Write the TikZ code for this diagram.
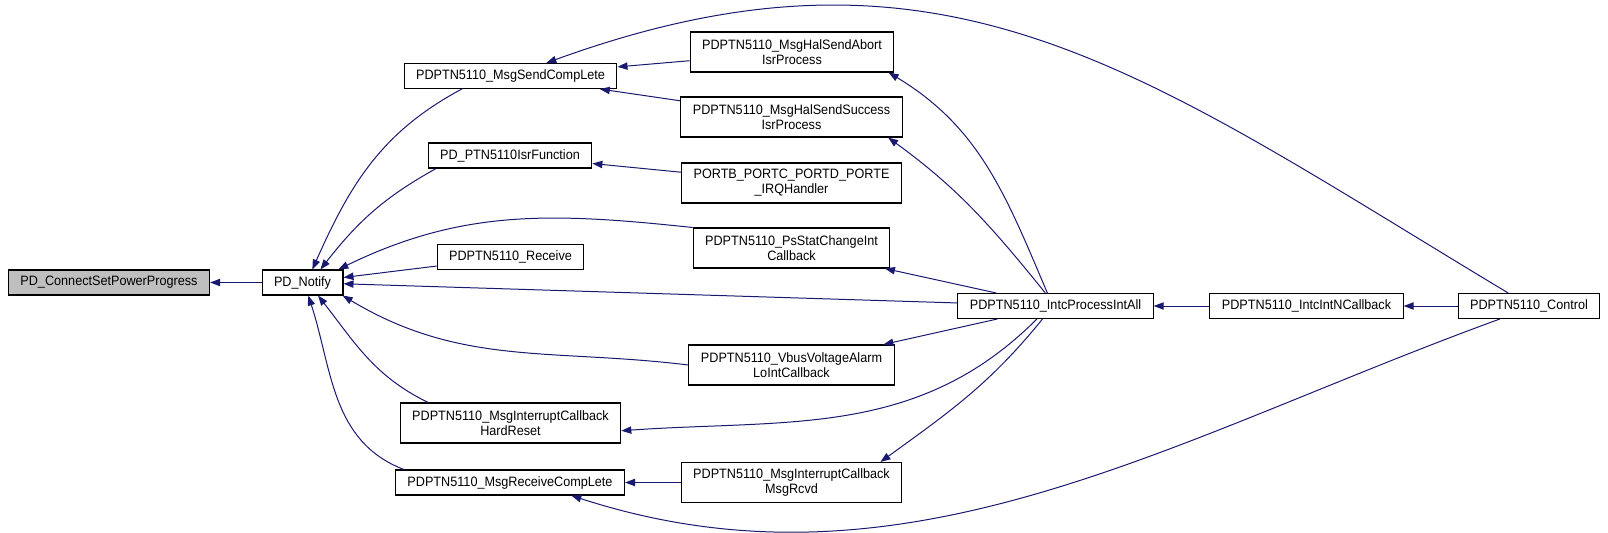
\documentclass[tikz,border=0pt]{standalone}
\usepackage{fontspec}
\setmainfont{Liberation Sans}[FakeStretch=0.93]
\usetikzlibrary{arrows.meta}
\definecolor{edge}{RGB}{25,25,112}
\definecolor{rootfill}{RGB}{191,191,191}

\begin{document}
\begin{tikzpicture}[
  x=0.75pt, y=0.75pt,
  font=\fontsize{10.2}{11.25}\selectfont,
  fn/.style={draw=black, fill=white, line width=0.8pt, align=center,
    inner xsep=9pt, inner ysep=2pt, minimum height=18.75pt},
  fn2/.style={fn, minimum height=30pt},
  root/.style={fn, fill=rootfill},
  arr/.style={-{Triangle[length=7.5pt,width=5.5pt]}, draw=edge, line width=0.75pt}
]
\useasboundingbox (0,0) rectangle (1608,-532);
\node[root] (cp) at (109,-282.5) {PD\_ConnectSetPowerProgress};
\node[fn] (nt) at (302.5,-282.5) {PD\_Notify};
\node[fn] (msc) at (510.5,-76) {PDPTN5110\_MsgSendCompLete};
\node[fn] (isr) at (510,-155.5) {PD\_PTN5110IsrFunction};
\node[fn] (rcv) at (510.5,-257) {PDPTN5110\_Receive};
\node[fn2] (hrd) at (510.5,-423) {PDPTN5110\_MsgInterruptCallback\\HardReset};
\node[fn] (mrc) at (510,-482.5) {PDPTN5110\_MsgReceiveCompLete};
\node[fn2] (abrt) at (792,-52) {PDPTN5110\_MsgHalSendAbort\\IsrProcess};
\node[fn2] (succ) at (791.5,-117) {PDPTN5110\_MsgHalSendSuccess\\IsrProcess};
\node[fn2] (port) at (791.5,-183) {PORTB\_PORTC\_PORTD\_PORTE\\\_IRQHandler};
\node[fn2] (pssc) at (791.5,-248) {PDPTN5110\_PsStatChangeInt\\Callback};
\node[fn2] (vbus) at (791.5,-365) {PDPTN5110\_VbusVoltageAlarm\\LoIntCallback};
\node[fn2] (mrcv) at (791.5,-482.5) {PDPTN5110\_MsgInterruptCallback\\MsgRcvd};
\node[fn] (intc) at (1055.5,-306) {PDPTN5110\_IntcProcessIntAll};
\node[fn] (intn) at (1306.5,-306) {PDPTN5110\_IntcIntNCallback};
\node[fn] (ctrl) at (1529,-306) {PDPTN5110\_Control};
\draw[arr] (nt) -- (cp);
\draw[arr] (msc.195) to[out=208,in=66] (nt.53);
\draw[arr] (isr.190) to[out=209,in=52] (nt.36);
\draw[arr] (pssc.north west) to[out=174,in=26] (nt.20);
\draw[arr] (rcv) -- (nt);
\draw[arr] (intc) -- (nt);
\draw[arr] (vbus.west) to[out=173,in=-31] (nt.-18);
\draw[arr] (hrd.166) to[out=154,in=-52] (nt.-40);
\draw[arr] (mrc.173) to[out=159,in=-72] (nt.-66);
\draw[arr] (abrt) -- (msc);
\draw[arr] (succ) -- (msc);
\draw[arr] (port) -- (isr);
\draw[arr] (intc.122) to[out=113,in=-31] (abrt.-12);
\draw[arr] (intc.128) to[out=129,in=-36] (succ.-12);
\draw[arr] (intc) -- (pssc);
\draw[arr] (intc) -- (vbus);
\draw[arr] (intc.215) to[out=225,in=4] (hrd.-4);
\draw[arr] (intc.225) to[out=231,in=36] (mrcv.13);
\draw[arr] (intn) -- (intc);
\draw[arr] (ctrl) -- (intn);
\draw[arr] (ctrl.148) to[out=149,in=20,looseness=1.1] (msc.20);
\draw[arr] (ctrl.204) to[out=200,in=-18,looseness=0.95] (mrc.-12);
\draw[arr] (mrcv) -- (mrc);
\end{tikzpicture}
\end{document}
